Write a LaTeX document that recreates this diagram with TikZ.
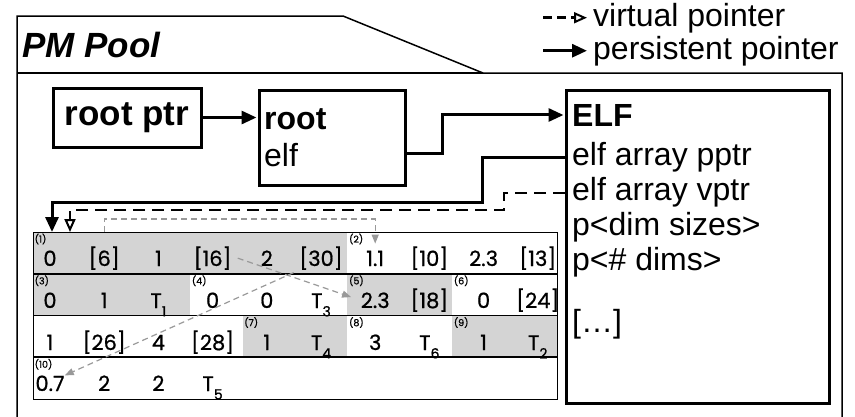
\documentclass[tikz,border=0pt]{standalone}
\usepackage{fontspec}
\setmainfont{Liberation Sans}
\newfontfamily\tblfont{Poppins}[UprightFeatures={FakeBold=0.8}]
\usetikzlibrary{arrows.meta, positioning}

\newcommand\mainsize{\fontsize{32}{36}\selectfont}
\newcommand\tsub[1]{\raisebox{-0.4em}{\fontsize{14}{14}\selectfont#1}}

\begin{document}
\begin{tikzpicture}[
    x=1pt, y=-1pt,
    box/.style={draw=black, line width=3pt, inner sep=0pt},
    txt/.style={anchor=base west, inner sep=0pt, font=\mainsize},
    boldtxt/.style={txt, font=\mainsize\bfseries},
    persist/.style={line width=3pt, -{Triangle[length=15pt, width=13pt]}},
    virt/.style={line width=2.6pt, dash pattern=on 12pt off 7pt,
                 -{Triangle[open, length=13pt, width=11pt, line width=2pt]}},
    ptrgray/.style={draw=black!40, line width=1.2pt, dash pattern=on 6pt off 4pt,
                    -{Triangle[length=9pt, width=7pt]}},
    val/.style={anchor=base, inner sep=0pt, font={\tblfont\fontsize{21}{21}\selectfont}},
    rec/.style={anchor=north west, inner sep=1.5pt, font={\tblfont\fontsize{9.5}{9.5}\selectfont}},
    cellgray/.style={fill=black!17}
]
\useasboundingbox (0,0) rectangle (855,416);

% pool frame
\draw[line width=1.5pt] (17,418) -- (17,16) -- (343,16) -- (483,73) -- (842,73) -- (842,418);
\draw[line width=1.5pt] (17,73) -- (483,73);
\node[txt, font={\fontsize{35}{35}\selectfont\bfseries\itshape}] (pool) at (22,57) {PM Pool};

% legend
\node[txt] (legv) at (593,26) {virtual pointer};
\node[txt] (legp) at (593,59) {persistent pointer};
\path (legv.west) ++(-50,0) coordinate (legva);
\path (legp.west) ++(-50,0) coordinate (legpa);
\draw[virt, dash pattern=on 9pt off 5pt, shorten >=6pt] (legva) -- (legv.west);
\draw[persist, shorten >=6pt] (legpa) -- (legp.west);

% boxes
\node[box, minimum width=148pt, minimum height=59pt] (rootptr) at (127,117.5)
    {\fontsize{35}{35}\selectfont\bfseries root ptr};
\node[box, minimum width=146pt, minimum height=95pt, anchor=north west] (root) at (258,89) {};
\node[boldtxt] (rootname) at (264,129) {root};
\node[txt] (rootelf) at (264,166) {elf};

\node[box, minimum width=263pt, minimum height=313pt, anchor=north west] (elf) at (565,89) {};
\node[boldtxt] (elfname) at (572,126) {ELF};
\node[txt] (pptr) at (572,165) {elf array pptr};
\node[txt] (vptr) at (572,200) {elf array vptr};
\node[txt] (dims) at (572,235) {p<dim sizes>};
\node[txt] (ndims) at (572,270) {p<\# dims>};
\node[txt] (etc) at (572,332) {[…]};

% element array
\def\cw{52.4}
\def\rh{41.75}
\foreach \r/\a/\b in {1/0/6, 2/0/3, 2/6/8, 3/4/6, 3/8/10}
    \fill[cellgray] ({33+\a*\cw},{232+(\r-1)*\rh}) rectangle ({33+\b*\cw},{232+\r*\rh});
\foreach \r in {1,2,3}
    \draw[line width=1.6pt] (33,{232+\r*\rh}) -- (557,{232+\r*\rh});
\node[draw, line width=1.3pt, inner sep=0pt, minimum width=524pt, minimum height=167pt,
      anchor=north west] (tbl) at (33,232) {};

\foreach \v [count=\i] in {0,{[6]},1,{[16]},2,{[30]},1.1,{[10]},2.3,{[13]}}
    \node[val] (r1c\i) at ({50+(\i-1)*54.2},266) {\v};
\foreach \v [count=\i] in {0,1,{T\tsub{1}},0,0,{T\tsub{3}},2.3,{[18]},0,{[24]}}
    \node[val] (r2c\i) at ({50+(\i-1)*54.2},308) {\v};
\foreach \v [count=\i] in {1,{[26]},4,{[28]},1,{T\tsub{4}},3,{T\tsub{6}},1,{T\tsub{2}}}
    \node[val] (r3c\i) at ({50+(\i-1)*54.2},350) {\v};
\foreach \v [count=\i] in {0.7,2,2,{T\tsub{5}}}
    \node[val] (r4c\i) at ({50+(\i-1)*54.2},391) {\v};

\foreach \n/\r/\c in {1/1/0, 2/1/6, 3/2/0, 4/2/3, 5/2/6, 6/2/8, 7/3/4, 8/3/6, 9/3/8, 10/4/0}
    \node[rec] (lab\n) at ({33+\c*\cw},{232+(\r-1)*\rh}) {(\n)};

% pointers
\draw[persist, shorten >=1.5pt] (rootptr.east) -- (rootptr.east -| root.west);
\path (root.east) ++(0,15.5) coordinate (rootout);
\draw[persist, shorten >=1.5pt] (rootout) -- ++(35,0) |- (elfname.west -| elf.west);

\path (pptr.base -| elf.west) ++(0,-8) coordinate (pp);
\path (vptr.base -| elf.west) ++(0,-7) coordinate (vp);
\draw[persist] (pp) -| ++(-83,45) -| ([xshift=19pt]tbl.north west);
\draw[virt] (vp) -| ++(-61,17) -| ([xshift=37pt]tbl.north west);

\draw[ptrgray] (r1c2.north |- tbl.north) -- ++(0,-13) -| ([yshift=7pt]r1c7.north);
\draw[ptrgray, shorten >=10pt] ([xshift=6pt]r1c4.east) -- (r2c7.west);
\draw[ptrgray, shorten <=6pt] (r1c6.south west) -- (r4c1.north east);
\end{tikzpicture}
\end{document}
